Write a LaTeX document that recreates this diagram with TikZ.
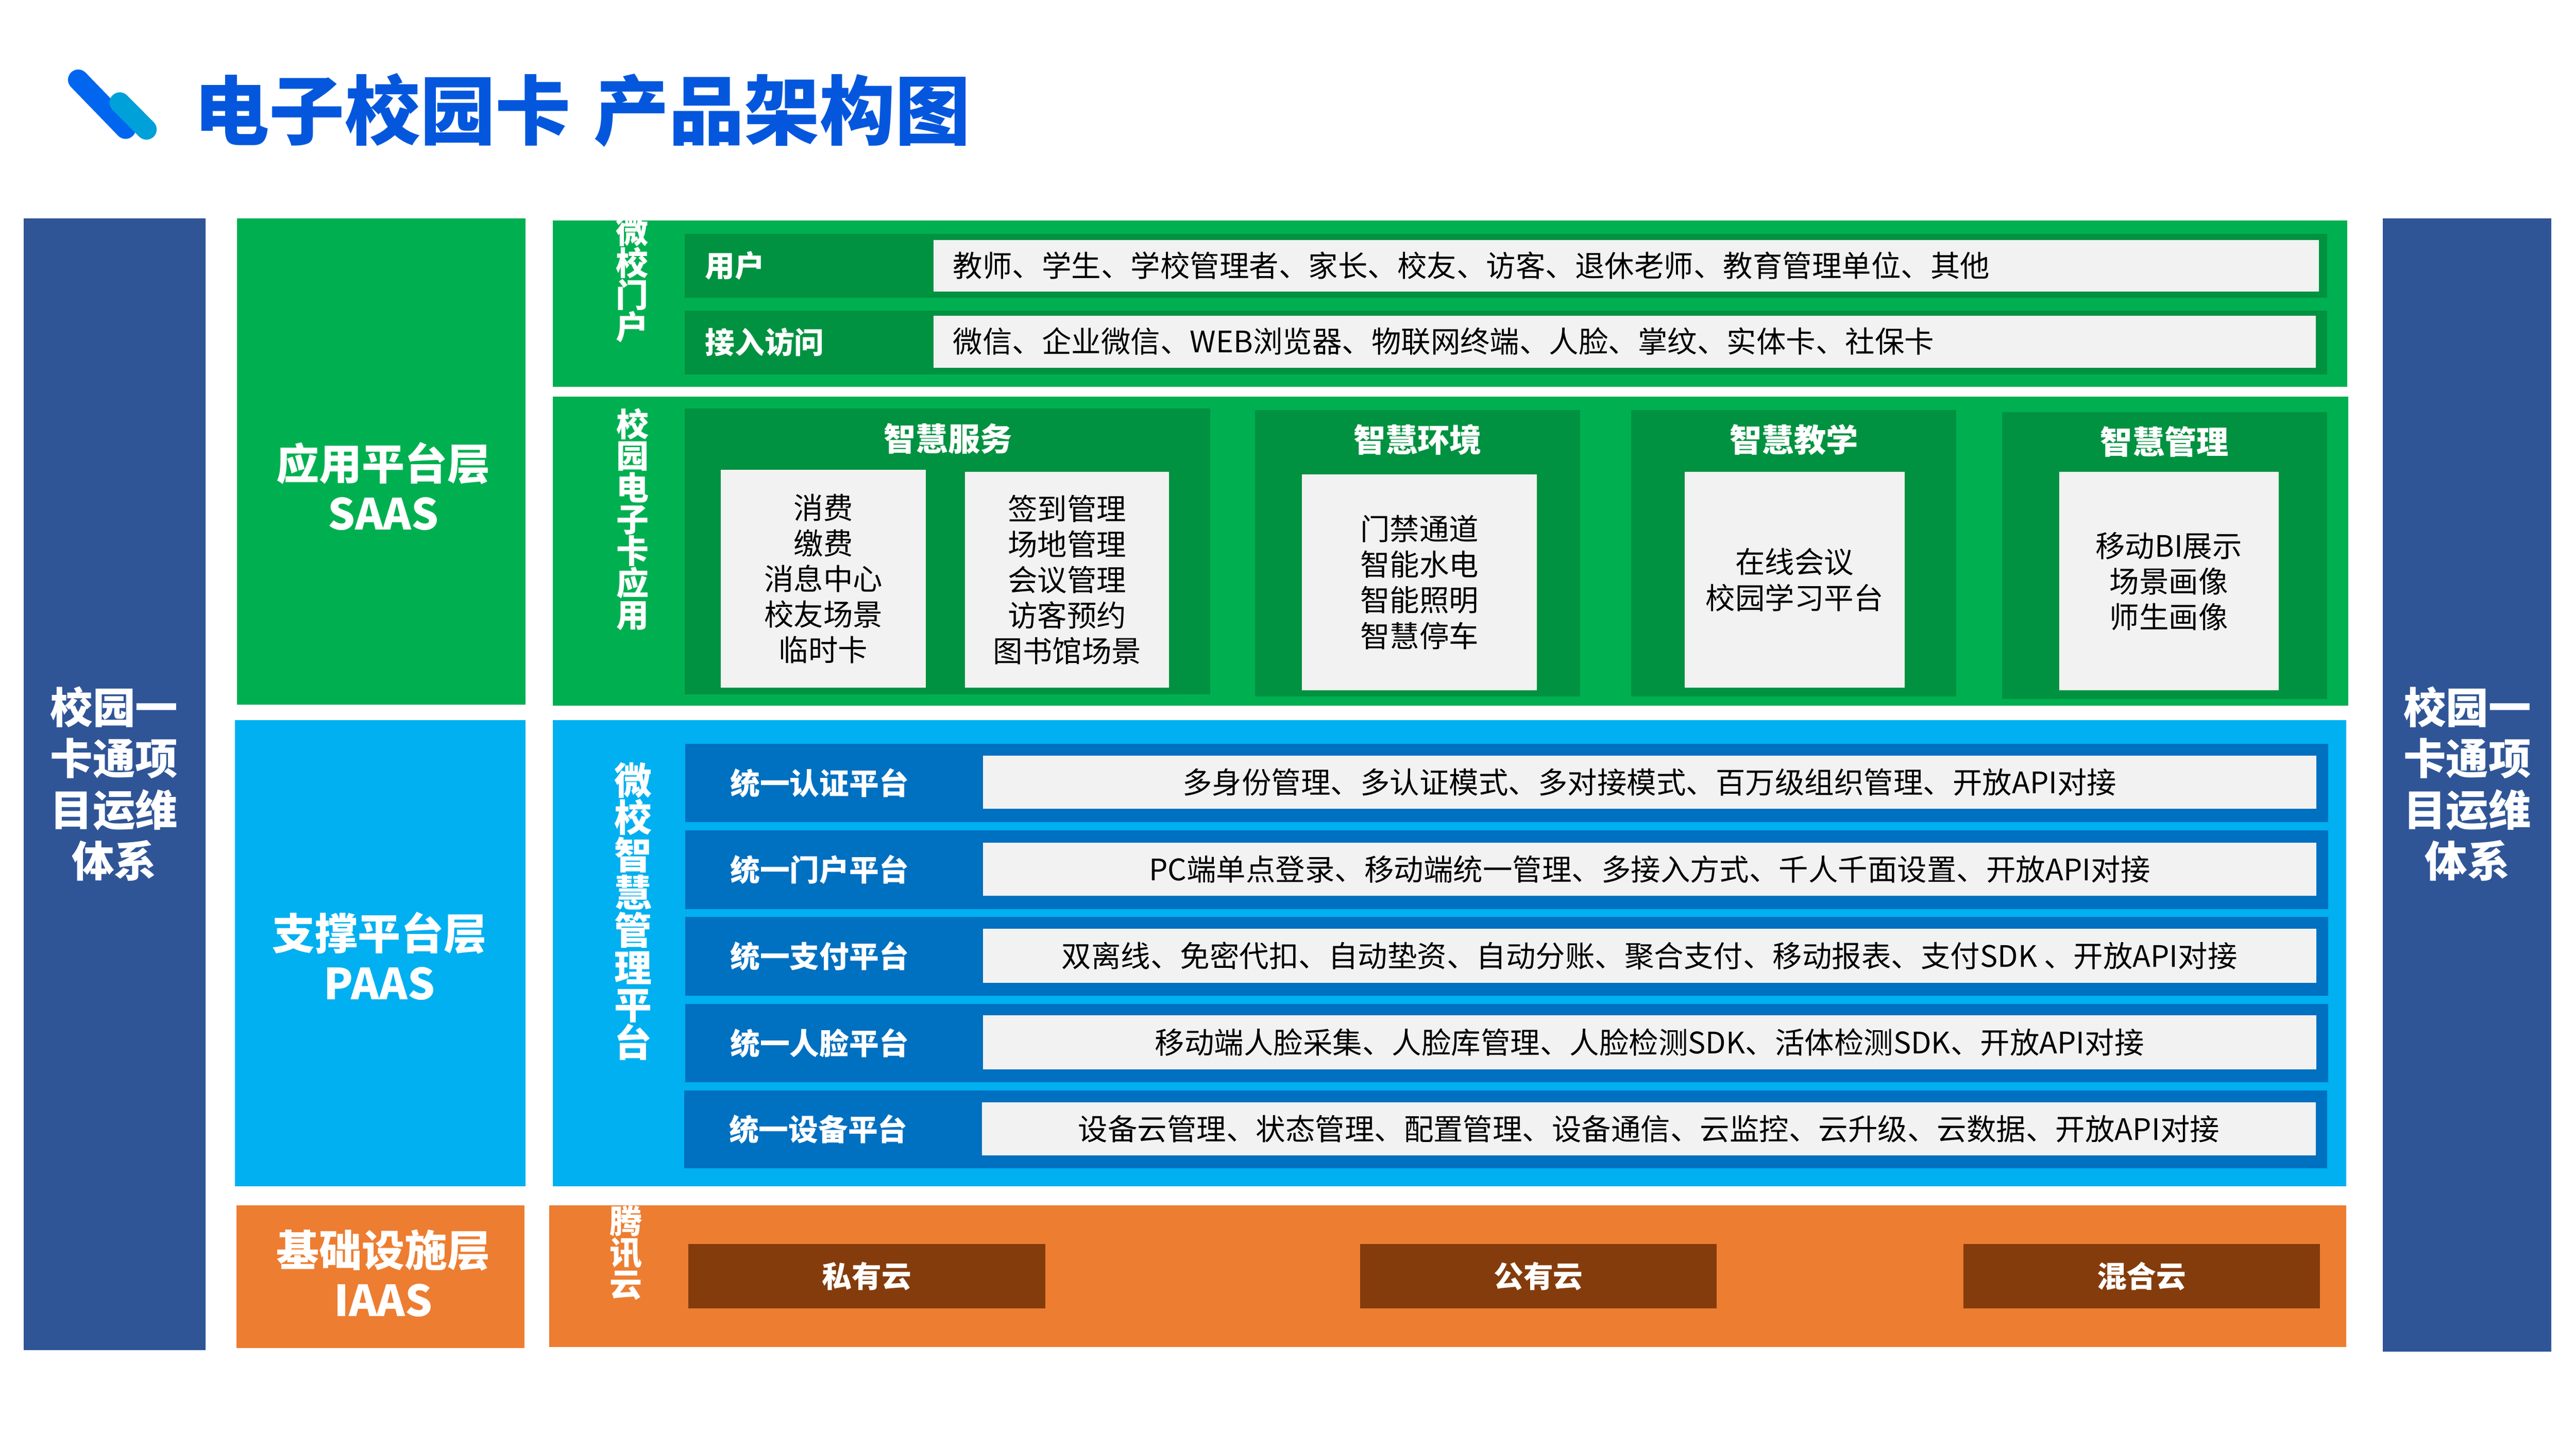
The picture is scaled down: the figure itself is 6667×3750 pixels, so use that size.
\documentclass[tikz,border=0pt]{standalone}
\usepackage{fontspec}
\setmainfont{Noto Sans CJK SC}
\definecolor{opsblue}{HTML}{2F5597}
\definecolor{lightgreen}{HTML}{00B050}
\definecolor{deepgreen}{HTML}{009240}
\definecolor{lightblue}{HTML}{00B0F0}
\definecolor{deepblue}{HTML}{0070C0}
\definecolor{lightorange}{HTML}{ED7D31}
\definecolor{deepbrown}{HTML}{843C0C}
\definecolor{panel}{HTML}{F2F2F2}
\definecolor{titleblue}{HTML}{0457DC}
\definecolor{logoblue}{HTML}{0066F0}
\definecolor{logocyan}{HTML}{00A0D8}
\newcommand{\tightlines}{\lineskiplimit=-50pt\relax}
\tikzset{
  sized/.style 2 args={inner sep=0pt,outer sep=0pt,anchor=north west,minimum width=#1*0.01cm,minimum height=#2*0.01cm},
  txt/.style={inner sep=0pt,outer sep=0pt,align=center,text=white},
  bodytxt/.style={font=\fontsize{21.8}{26.2}\selectfont\tightlines,align=center,text=black},
  rowlabel/.style={font=\fontsize{21.9}{26.2}\selectfont\bfseries,text=white},
  headtxt/.style={font=\fontsize{23.6}{28}\selectfont\bfseries},
  layertxt/.style={font=\fontsize{31.5}{36.6}\selectfont\bfseries\tightlines},
  opstxt/.style={font=\fontsize{31.3}{37.7}\selectfont\bfseries\tightlines},
  stacktxt/.style={font=\fontsize{23.9}{23.4}\selectfont\bfseries\tightlines},
  stackbig/.style={font=\fontsize{27.6}{27.6}\selectfont\bfseries\tightlines}
}
\begin{document}
\begin{tikzpicture}[x=0.01cm,y=-0.01cm]
\useasboundingbox (0,0) rectangle (6667,3750);
\coordinate (logoA) at (202.5,206.5);
\coordinate (logoB) at (325,333);
\coordinate (logoC) at (310,265.5);
\coordinate (logoD) at (379,335);
\draw[line width=0.53cm,line cap=round,logoblue] (logoA) -- (logoB);
\draw[line width=0.53cm,line cap=round,logocyan] (logoC) -- (logoD);
\node[txt,anchor=west,text=titleblue,font=\fontsize{55.5}{60}\selectfont\bfseries] (title) at (502,285) {电子校园卡\hspace{0.07em} 产品架构图};

\node[sized={470}{2930},fill=opsblue] (opsL) at (62,565) {};
\node[sized={436}{2934},fill=opsblue] (opsR) at (6167.5,565) {};
\node[txt,opstxt] (opsLtext) at (295.5,2029) {校园一\\卡通项\\目运维\\体系};
\node[txt,opstxt] (opsRtext) at (6385.7,2029) {校园一\\卡通项\\目运维\\体系};

\node[sized={747}{1259},fill=lightgreen] (saas) at (613,565) {};
\node[sized={752}{1207},fill=lightblue] (paas) at (608,1864) {};
\node[sized={746}{370},fill=lightorange] (iaas) at (612,3120) {};
\node[txt,layertxt] (saastext) at (992,1259) {应用平台层\\SAAS};
\node[txt,layertxt] (paastext) at (982,2475) {支撑平台层\\PAAS};
\node[txt,layertxt] (iaastext) at (992,3296) {基础设施层\\IAAS};

\node[sized={4644}{431},fill=lightgreen] (portal) at (1431,571) {};
\node[sized={4646}{799.5},fill=lightgreen] (app) at (1431,1027) {};
\node[sized={4641}{1207},fill=lightblue] (mgmt) at (1431,1864) {};
\node[sized={4651}{367},fill=lightorange] (cloud) at (1421.7,3120) {};
\node[txt,stacktxt] (portaltext) at (1636,722.5) {微\\校\\门\\户};
\node[txt,stacktxt] (apptext) at (1638,1344) {校\\园\\电\\子\\卡\\应\\用};
\node[txt,stackbig] (mgmttext) at (1638,2359) {微\\校\\智\\慧\\管\\理\\平\\台};
\node[txt,stacktxt] (cloudtext) at (1620.7,3243) {腾\\讯\\云};

\node[sized={4250.6}{165.7},fill=deepgreen] (userrow) at (1772,605) {};
\node[sized={3585}{134.3},fill=panel] (userbox) at (2416.5,620.7) {};
\node[txt,rowlabel,anchor=west] (userlabel) at (1825,687) {用户};
\node[bodytxt,anchor=west,inner sep=0pt] (usertext) at (2466,687.6) {教师、学生、学校管理者、家长、校友、访客、退休老师、教育管理单位、其他};
\node[sized={4250.6}{166},fill=deepgreen] (accessrow) at (1772,804) {};
\node[sized={3577.5}{134.7},fill=panel] (accessbox) at (2416.5,817) {};
\node[txt,rowlabel,anchor=west] (accesslabel) at (1825,886) {接入访问};
\node[bodytxt,anchor=west,inner sep=0pt] (accesstext) at (2466,884) {微信、企业微信、WEB浏览器、物联网终端、人脸、掌纹、实体卡、社保卡};

\node[sized={1360}{740},fill=deepgreen] (service) at (1772,1057) {};
\node[sized={841}{742},fill=deepgreen] (environ) at (3248,1061) {};
\node[sized={841}{742},fill=deepgreen] (teach) at (4222,1061) {};
\node[sized={840.6}{742},fill=deepgreen] (manage) at (5182,1067) {};
\node[txt,headtxt] (servicehead) at (2453.6,1135.8) {智慧服务};
\node[txt,headtxt] (environhead) at (3669,1137.7) {智慧环境};
\node[txt,headtxt] (teachhead) at (4643,1138) {智慧教学};
\node[txt,headtxt] (managehead) at (5602,1144) {智慧管理};
\node[sized={530.4}{563.4},fill=panel,bodytxt] (serviceA) at (1865.6,1216.6) {消费\\缴费\\消息中心\\校友场景\\临时卡};
\node[sized={528}{558},fill=panel,bodytxt] (serviceB) at (2498,1222) {签到管理\\场地管理\\会议管理\\访客预约\\图书馆场景};
\node[sized={608}{558.5},fill=panel,bodytxt] (environA) at (3370,1228) {门禁通道\\智能水电\\智能照明\\智慧停车};
\node[sized={569}{558.3},fill=panel,bodytxt] (teachA) at (4360,1221.7) {在线会议\\校园学习平台};
\node[sized={568}{565},fill=panel,bodytxt] (manageA) at (5329,1222) {移动BI展示\\场景画像\\师生画像};

\node[sized={4253}{202.3},fill=deepblue] (rowA) at (1773,1925.7) {};
\node[sized={4253}{203.3},fill=deepblue] (rowB) at (1773,2149.7) {};
\node[sized={4253}{203.2},fill=deepblue] (rowC) at (1773,2373.8) {};
\node[sized={4253}{202.4},fill=deepblue] (rowD) at (1773,2598.6) {};
\node[sized={4252.4}{201.4},fill=deepblue] (rowE) at (1770.6,2822.6) {};
\node[txt,rowlabel] (rowAlabel) at (2121,2027) {统一认证平台};
\node[txt,rowlabel] (rowBlabel) at (2121,2251) {统一门户平台};
\node[txt,rowlabel] (rowClabel) at (2121,2475) {统一支付平台};
\node[txt,rowlabel] (rowDlabel) at (2121,2700) {统一人脸平台};
\node[txt,rowlabel] (rowElabel) at (2118,2923) {统一设备平台};
\node[sized={3451.5}{138},fill=panel,bodytxt] (rowAbox) at (2543.5,1956) {多身份管理、多认证模式、多对接模式、百万级组织管理、开放API对接};
\node[sized={3451.5}{138},fill=panel,bodytxt] (rowBbox) at (2543.5,2181) {PC端单点登录、移动端统一管理、多接入方式、千人千面设置、开放API对接};
\node[sized={3451.5}{139.6},fill=panel,bodytxt] (rowCbox) at (2543.5,2404) {双离线、免密代扣、自动垫资、自动分账、聚合支付、移动报表、支付SDK 、开放API对接};
\node[sized={3451.5}{139.6},fill=panel,bodytxt] (rowDbox) at (2543.5,2628) {移动端人脸采集、人脸库管理、人脸检测SDK、活体检测SDK、开放API对接};
\node[sized={3452.5}{137.8},fill=panel,bodytxt] (rowEbox) at (2541,2853) {设备云管理、状态管理、配置管理、设备通信、云监控、云升级、云数据、开放API对接};

\node[sized={924}{166},fill=deepbrown,rowlabel] (private) at (1781,3220.7) {私有云};
\node[sized={923}{166},fill=deepbrown,rowlabel] (public) at (3520,3220.7) {公有云};
\node[sized={923}{166},fill=deepbrown,rowlabel] (hybrid) at (5081,3220.7) {混合云};
\end{tikzpicture}
\end{document}
